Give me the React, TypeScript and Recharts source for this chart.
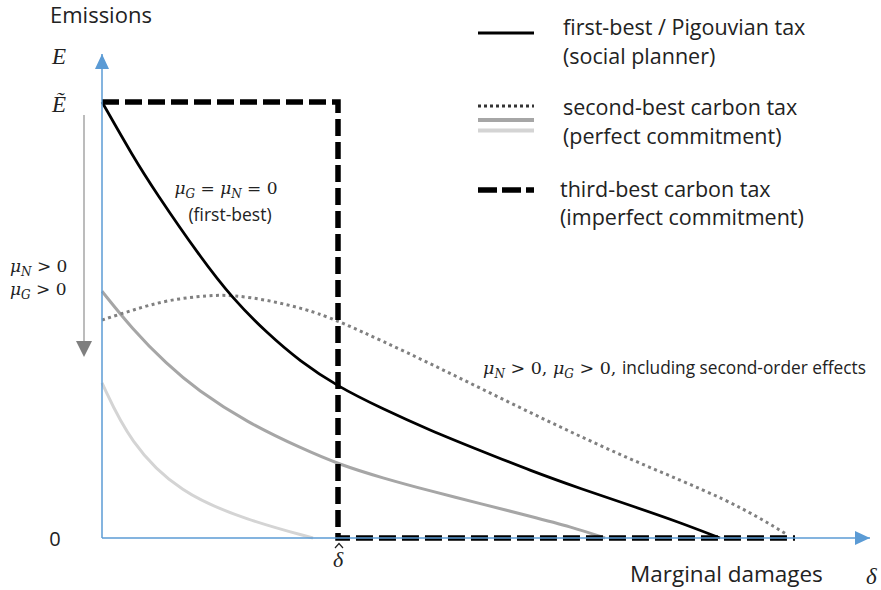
import React from 'react';
import {
  ComposedChart,
  Line,
  XAxis,
  YAxis,
  ReferenceDot,
  ReferenceLine,
  Legend,
  Customized,
} from 'recharts';

// ---- data (delta = marginal damages, E = emissions, E~ = 1) ----
const firstBestDelta = [0, 0.31, 0.53, 0.98, 1.31, 1.65, 1.98, 2.36, 2.8, 3.28, 3.8, 4.28, 4.8, 5.28, 5.75, 6.18];
const firstBestE = [1.0, 0.875, 0.795, 0.645, 0.548, 0.47, 0.405, 0.347, 0.297, 0.247, 0.199, 0.155, 0.112, 0.075, 0.038, 0];

const secondOrderDelta = [0, 0.31, 0.65, 1.08, 1.31, 1.65, 1.98, 2.31, 3.28, 4.28, 5.28, 6.28, 6.85];
const secondOrderE = [0.5, 0.523, 0.546, 0.557, 0.557, 0.546, 0.528, 0.505, 0.401, 0.287, 0.179, 0.087, 0.008];

const secondMidDelta = [0, 0.3, 0.65, 0.95, 1.45, 2.0, 2.38, 2.8, 3.28, 3.8, 4.28, 4.7, 5.03];
const secondMidE = [0.566, 0.48, 0.398, 0.34, 0.265, 0.205, 0.168, 0.138, 0.108, 0.078, 0.05, 0.025, 0];

const secondLowDelta = [0, 0.28, 0.78, 1.45, 2.11];
const secondLowE = [0.356, 0.218, 0.103, 0.041, 0];

const thirdBestDelta = [0, 2.36, 2.36, 6.93];
const thirdBestE = [1, 1, 0, 0];

const xTicks = [2.36];
const yTicks = [0, 1, 1.11];

const toPoints = (xs: number[], ys: number[]) => xs.map((x, i) => ({ x, y: ys[i] }));

const firstBest = toPoints(firstBestDelta, firstBestE);
const secondOrder = toPoints(secondOrderDelta, secondOrderE);
const secondMid = toPoints(secondMidDelta, secondMidE);
const secondLow = toPoints(secondLowDelta, secondLowE);
const thirdBest = toPoints(thirdBestDelta, thirdBestE);

const AXIS = '#5b9bd5';
const TXT = '#222';
const SANS = '"Open Sans", Lato, sans-serif';
const SERIF = '"DejaVu Serif", "Liberation Serif", serif';
const TSERIF = '"Liberation Serif", "DejaVu Serif", serif';

const YTick = (props: any) => {
  const { y, payload } = props;
  const v = payload.value;
  if (v === 0) {
    return (
      <text x={55} y={y + 8} textAnchor="middle" fontFamily={SANS} fontSize={20} fill={TXT}>
        0
      </text>
    );
  }
  return (
    <text x={59} y={y + 10} textAnchor="middle" fontFamily={TSERIF} fontStyle="italic" fontSize={23} fill={TXT}>
      {v === 1 ? 'Ẽ' : 'E'}
    </text>
  );
};

const XTick = (props: any) => {
  const { x } = props;
  return (
    <g>
      <text x={x} y={567} textAnchor="middle" fontFamily={TSERIF} fontStyle="italic" fontSize={22} fill={TXT}>
        δ
      </text>
      <path d={`M${x - 3},${548} L${x + 1},${543.5} L${x + 5},${548}`} fill="none" stroke={TXT} strokeWidth={1.2} />
    </g>
  );
};

const UpArrow = (p: any) => (
  <path d={`M${p.cx},${p.cy} L${p.cx - 7},${p.cy + 15} L${p.cx + 7},${p.cy + 15} Z`} fill={AXIS} />
);
const RightArrow = (p: any) => (
  <path d={`M${p.cx},${p.cy} L${p.cx - 15},${p.cy - 7} L${p.cx - 15},${p.cy + 7} Z`} fill={AXIS} />
);
const DownArrow = (p: any) => (
  <path d={`M${p.cx},${p.cy} L${p.cx - 8},${p.cy - 16} L${p.cx + 8},${p.cy - 16} Z`} fill="#7f7f7f" />
);

const Annotations = () => (
  <g>
    <text x={50} y={23} fontFamily={SANS} fontSize={22} fill={TXT}>
      Emissions
    </text>
    <text x={226} y={194} textAnchor="middle" fontFamily={SERIF} fontSize={17} fill={TXT}>
      <tspan fontStyle="italic">μ</tspan>
      <tspan fontStyle="italic" fontSize={12} dy={4}>G</tspan>
      <tspan dy={-4}> = </tspan>
      <tspan fontStyle="italic">μ</tspan>
      <tspan fontStyle="italic" fontSize={12} dy={4}>N</tspan>
      <tspan dy={-4}> = 0</tspan>
    </text>
    <text x={230} y={221} textAnchor="middle" fontFamily={SANS} fontSize={17.5} fill={TXT}>
      (first-best)
    </text>
    <text x={10} y={272} fontFamily={SERIF} fontSize={17} fill={TXT}>
      <tspan fontStyle="italic">μ</tspan>
      <tspan fontStyle="italic" fontSize={12} dy={4}>N</tspan>
      <tspan dy={-4}> &gt; 0</tspan>
    </text>
    <text x={10} y={295} fontFamily={SERIF} fontSize={17} fill={TXT}>
      <tspan fontStyle="italic">μ</tspan>
      <tspan fontStyle="italic" fontSize={12} dy={4}>G</tspan>
      <tspan dy={-4}> &gt; 0</tspan>
    </text>
    <text x={483} y={374} fontFamily={SERIF} fontSize={17.5} fill={TXT}>
      <tspan fontStyle="italic">μ</tspan>
      <tspan fontStyle="italic" fontSize={12} dy={4}>N</tspan>
      <tspan dy={-4}> &gt; 0, </tspan>
      <tspan fontStyle="italic">μ</tspan>
      <tspan fontStyle="italic" fontSize={12} dy={4}>G</tspan>
      <tspan dy={-4}> &gt; 0, </tspan>
      <tspan fontFamily={SANS} fontSize={17.3}>including second-order effects</tspan>
    </text>
    <text x={630} y={582} fontFamily={SANS} fontSize={22.5} fill={TXT}>
      Marginal damages
    </text>
    <text x={866} y={584} fontFamily={TSERIF} fontStyle="italic" fontSize={23} fill={TXT}>
      δ
    </text>
  </g>
);

const LF = 21.5;
const LegendContent = () => (
  <svg width={421} height={240} style={{ display: 'block' }}>
    <line x1={18} x2={74} y1={33} y2={33} stroke="#000" strokeWidth={3} />
    <text x={103} y={35} fontFamily={SANS} fontSize={LF} fill={TXT}>first-best / Pigouvian tax</text>
    <text x={103} y={64} fontFamily={SANS} fontSize={LF} fill={TXT}>(social planner)</text>

    <line x1={18} x2={74} y1={106} y2={106} stroke="#333" strokeWidth={3} strokeDasharray="3 3" />
    <line x1={18} x2={74} y1={120} y2={120} stroke="#a6a6a6" strokeWidth={4} />
    <line x1={18} x2={74} y1={130.5} y2={130.5} stroke="#d4d4d4" strokeWidth={4} />
    <text x={103} y={115} fontFamily={SANS} fontSize={LF} fill={TXT}>second-best carbon tax</text>
    <text x={103} y={144} fontFamily={SANS} fontSize={LF} fill={TXT}>(perfect commitment)</text>

    <line x1={18} x2={74} y1={190} y2={190} stroke="#000" strokeWidth={5.5} strokeDasharray="19 5" />
    <text x={100} y={197} fontFamily={SANS} fontSize={LF} fill={TXT}>third-best carbon tax</text>
    <text x={100} y={225} fontFamily={SANS} fontSize={LF} fill={TXT}>(imperfect commitment)</text>
  </svg>
);

export default function App() {
  return (
    <div style={{ position: 'absolute', left: 0, top: 0, width: 881, height: 590, background: '#fff' }}>
      <ComposedChart width={881} height={590} margin={{ top: 54, right: 11, bottom: 12, left: 42 }}>
        <XAxis
          type="number"
          dataKey="x"
          domain={[0, 7.68]}
          ticks={xTicks}
          tick={<XTick />}
          tickLine={false}
          height={40}
          axisLine={{ stroke: AXIS, strokeWidth: 1.5 }}
        />
        <YAxis
          type="number"
          dataKey="y"
          domain={[0, 1.11]}
          ticks={yTicks}
          tick={<YTick />}
          tickLine={false}
          width={60}
          axisLine={{ stroke: AXIS, strokeWidth: 1.5 }}
        />
        <Legend
          layout="vertical"
          align="center"
          verticalAlign="middle"
          content={<LegendContent />}
          wrapperStyle={{ left: 460, top: 0, width: 421, height: 240 }}
        />
        <ReferenceDot x={0} y={1.11} ifOverflow="visible" shape={UpArrow} />
        <ReferenceDot x={7.68} y={0} ifOverflow="visible" shape={RightArrow} />
        <ReferenceLine
          segment={[{ x: -0.18, y: 0.97 }, { x: -0.18, y: 0.44 }]}
          stroke="#a6a6a6"
          strokeWidth={1.5}
          ifOverflow="visible"
        />
        <ReferenceDot x={-0.18} y={0.415} ifOverflow="visible" shape={DownArrow} />

        <Line data={secondLow} dataKey="y" type="basis" stroke="#d4d4d4" strokeWidth={3} dot={false} isAnimationActive={false} />
        <Line data={secondMid} dataKey="y" type="basis" stroke="#a6a6a6" strokeWidth={3} dot={false} isAnimationActive={false} />
        <Line data={secondOrder} dataKey="y" type="basis" stroke="#808080" strokeWidth={3} strokeDasharray="3 3.5" dot={false} isAnimationActive={false} />
        <Line data={firstBest} dataKey="y" type="basis" stroke="#000" strokeWidth={2.75} dot={false} isAnimationActive={false} />
        <Line data={thirdBest} dataKey="y" type="linear" stroke="#000" strokeWidth={5.5} strokeDasharray="17 6" dot={false} isAnimationActive={false} />
        <Customized component={Annotations} />
      </ComposedChart>
    </div>
  );
}
